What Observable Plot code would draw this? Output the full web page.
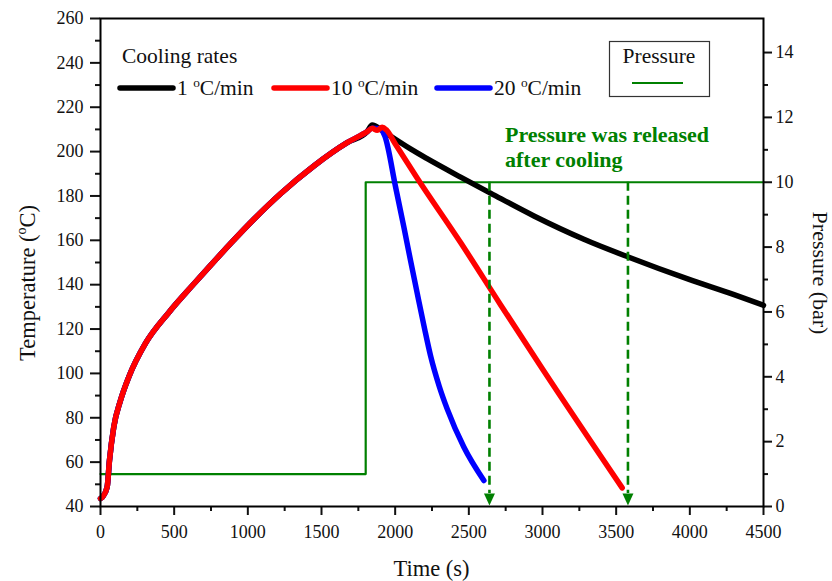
<!DOCTYPE html>
<html>
<head>
<meta charset="utf-8">
<script src="https://cdn.jsdelivr.net/npm/d3@7"></script>
<script src="https://cdn.jsdelivr.net/npm/@observablehq/plot@0.6"></script>
<style>
  html, body { margin: 0; padding: 0; background: white; }
  svg text { font-family: "Liberation Serif", serif; }
</style>
</head>
<body>
<div id="chart"></div>
<script>
// ---- data ----
const heatTime = [0, 16, 45, 61, 90, 136, 192, 305, 464, 622, 724, 882, 1041, 1222, 1448, 1674, 1810];
const heatTemp = [43.6, 44.5, 48.7, 60.8, 75.8, 87.9, 98.4, 113.5, 127.5, 139.5, 147, 158.5, 169.5, 181, 193.5, 204, 209];

const blackTime = [1844, 1912, 1991, 2104, 2217, 2444, 2647, 2942, 3281, 3582, 3990, 4300, 4500];
const blackTemp = [212, 209.5, 206, 201.2, 196.8, 188.5, 181.3, 171, 160.5, 152.5, 142.5, 135.5, 130.7];

const redTime = [1844, 1878, 1912, 1940, 2000, 2150, 2444, 2715, 3000, 3541];
const redTemp = [210.5, 209.6, 211, 209.8, 203.5, 188, 159, 131, 102, 48.4];

const blueTime = [1844, 1900, 1930, 2003, 2059, 2104, 2150, 2200, 2240, 2300, 2353, 2466, 2602];
const blueTemp = [210.5, 210.3, 207, 184, 166, 151, 136, 120, 108, 94, 84, 66.8, 51.7];

const pressureTime = [0, 1800, 4500];
const pressureValue = [1, 10, 10];
const releaseTime = [2640, 3580];

const seriesNames = ["1", "10", "20"];
const seriesColors = ["#000000", "#ff0000", "#0000ff"];

const xTicks = d3.range(0, 4501, 500);
const yTicks = d3.range(40, 261, 20);
const pTicks = d3.range(0, 15, 2);

// pressure axis mapping (0 bar at 40 °C, top 15.05 bar at 260 °C)
const pMax = 15.05;
const toT = p => 40 + p * 220 / pMax;
const fromT = t => (t - 40) * pMax / 220;

const series = (times, temps) => times.map((t, i) => ({t, v: temps[i]}));
const heat = series(heatTime, heatTemp);
const black = heat.concat(series(blackTime, blackTemp));
const red = heat.concat(series(redTime, redTemp));
const blue = heat.concat(series(blueTime, blueTemp));
const pressure = series(pressureTime, pressureValue);

const green = "#008000";
const font = "Liberation Serif";
const arrowHead = {
  draw(ctx) {
    ctx.moveTo(-5.5, -13);
    ctx.lineTo(5.5, -13);
    ctx.lineTo(0, -1);
    ctx.closePath();
  }
};

const lineOpts = (c) => ({x: "t", y: "v", curve: "monotone-x", stroke: c, strokeWidth: 5.5, strokeLinecap: "round", strokeLinejoin: "round"});
const fmt = d3.format("d");

const svg = Plot.plot({
  width: 832,
  height: 581,
  marginLeft: 100,
  marginRight: 69,
  marginTop: 18,
  marginBottom: 75,
  style: {fontFamily: font, fontSize: "18px", background: "white", color: "#111"},
  x: {domain: [0, 4500]},
  y: {domain: [40, 260]},
  marks: [
    Plot.line(pressure, {x: "t", y: d => toT(d.v), curve: "step-after", stroke: green, strokeWidth: 2.2}),
    Plot.line(black, lineOpts(seriesColors[0])),
    Plot.line(blue, lineOpts(seriesColors[2])),
    Plot.line(red, lineOpts(seriesColors[1])),
    Plot.ruleX(releaseTime, {x: d => d, y1: () => toT(10), y2: () => toT(0.4), stroke: green, strokeWidth: 2.6, strokeDasharray: "9,5"}),
    Plot.dot(releaseTime, {x: d => d, y: () => toT(0), symbol: arrowHead, fill: green, stroke: null}),
    Plot.axisX({ticks: xTicks, tickFormat: fmt, tickSize: 9, tickPadding: 10, strokeWidth: 2, label: null, fontSize: 18, fontFamily: font}),
    Plot.axisX({ticks: d3.range(250, 4500, 500), tickSize: 5, tickFormat: () => "", strokeWidth: 2, label: null}),
    Plot.axisY({ticks: yTicks, tickFormat: fmt, tickSize: 10, tickPadding: 7, strokeWidth: 2, label: null, fontSize: 18, fontFamily: font}),
    Plot.axisY({ticks: d3.range(50, 260, 20), tickSize: 5, tickFormat: () => "", strokeWidth: 2, label: null}),
    Plot.axisY({anchor: "right", ticks: pTicks.map(toT), tickFormat: t => Math.round(fromT(t)), tickSize: 8, tickPadding: 4, strokeWidth: 2, label: null, fontSize: 18, fontFamily: font}),
    Plot.axisY({anchor: "right", ticks: d3.range(1, 15, 2).map(toT), tickSize: 4, tickFormat: () => "", strokeWidth: 2, label: null}),
    Plot.frame({stroke: "black", strokeWidth: 2})
  ]
});

const s = d3.select(svg);

function degText(g, x, y, prefix, suffix, size, attrs) {
  const t = g.append("text")
    .attr("x", x).attr("y", y).attr("text-anchor", "start")
    .attr("font-family", font).attr("font-size", size).attr("fill", "#111");
  if (attrs) for (const k in attrs) t.attr(k, attrs[k]);
  t.append("tspan").text(prefix);
  t.append("tspan").attr("font-size", size * 0.62).attr("dy", -size * 0.38).text("o");
  t.append("tspan").attr("dy", size * 0.38).text(suffix);
  return t;
}

// axis titles
s.append("text").attr("x", 431.5).attr("y", 576).attr("text-anchor", "middle")
  .attr("font-family", font).attr("font-size", 22.5).attr("fill", "#111").text("Time (s)");
degText(s, 0, 0, "Temperature (", "C)", 22.5, {"text-anchor": "middle", "transform": "translate(35,283) rotate(-90)"});
s.append("text").attr("text-anchor", "middle").attr("transform", "translate(813,273) rotate(90)")
  .attr("font-family", font).attr("font-size", 22).attr("fill", "#111").text("Pressure (bar)");

// cooling rate legend
s.append("text").attr("x", 122).attr("y", 63).attr("text-anchor", "start").attr("font-family", font).attr("font-size", 21.5).attr("fill", "#111").text("Cooling rates");
const legX = [120, 274, 437];
seriesNames.forEach((n, i) => {
  s.append("line").attr("x1", legX[i]).attr("x2", legX[i] + 53).attr("y1", 88).attr("y2", 88)
    .attr("stroke", seriesColors[i]).attr("stroke-width", 5.5).attr("stroke-linecap", "round");
  degText(s, legX[i] + 57, 95, n + " ", "C/min", 21.5);
});

// pressure legend box
s.append("rect").attr("x", 609.5).attr("y", 41.5).attr("width", 100).attr("height", 55)
  .attr("fill", "none").attr("stroke", "#333").attr("stroke-width", 1.2);
s.append("text").attr("x", 659).attr("y", 63).attr("text-anchor", "middle")
  .attr("font-family", font).attr("font-size", 21.5).attr("fill", "#111").text("Pressure");
s.append("line").attr("x1", 632).attr("x2", 683).attr("y1", 83).attr("y2", 83)
  .attr("stroke", green).attr("stroke-width", 2.2);

// annotation
const ann = s.append("text").attr("text-anchor", "start").attr("font-family", font).attr("font-size", 22).attr("font-weight", "bold").attr("fill", green);
ann.append("tspan").attr("x", 505).attr("y", 141.5).text("Pressure was released");
ann.append("tspan").attr("x", 505).attr("y", 166.5).text("after cooling");

document.getElementById("chart").appendChild(svg);
</script>
</body>
</html>
